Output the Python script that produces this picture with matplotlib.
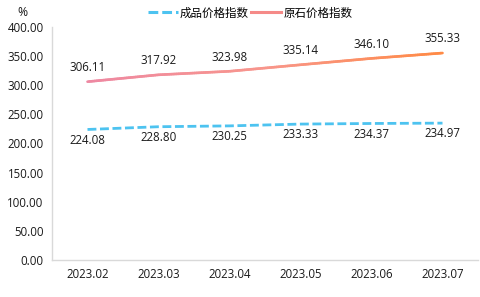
import matplotlib
matplotlib.use("Agg")
import matplotlib.pyplot as plt
import numpy as np
from matplotlib.collections import LineCollection
from matplotlib.colors import LinearSegmentedColormap
from matplotlib.lines import Line2D

plt.rcParams['font.family'] = ['Open Sans', 'Noto Sans CJK SC', 'DejaVu Sans']

categories = ['2023.02', '2023.03', '2023.04', '2023.05', '2023.06', '2023.07']
finished = [224.08, 228.80, 230.25, 233.33, 234.37, 234.97]
raw = [306.11, 317.92, 323.98, 335.14, 346.10, 355.33]
series_names = ['成品价格指数', '原石价格指数']

fig = plt.figure(figsize=(4.8, 2.97), dpi=100)
ax = fig.add_axes([52/480, 1-260/297, 426/480, 233/297])

x = np.arange(len(categories))

dash = (0, (3.2, 1.3))
# blue dashed
ax.plot(x, finished, color='#4DC3F0', lw=2.0, ls=dash, solid_capstyle='butt')

# gradient line
n = 200
xs = np.linspace(0, len(categories)-1, n)
ys = np.interp(xs, x, raw)
pts = np.array([xs, ys]).T.reshape(-1, 1, 2)
segs = np.concatenate([pts[:-1], pts[1:]], axis=1)
cmap = LinearSegmentedColormap.from_list('g', ['#EE88A2', '#F8968C', '#FF8A45'])
lc = LineCollection(segs, cmap=cmap, linewidths=1.9, capstyle='round')
lc.set_array(np.linspace(0, 1, n-1))
ax.add_collection(lc)

fs = 8.3
for i in range(len(categories)):
    ax.annotate(f'{raw[i]:.2f}', (x[i], raw[i]), xytext=(0, 5.5), textcoords='offset points',
                ha='center', va='bottom', fontsize=fs, color='#1a1a1a')
    ax.annotate(f'{finished[i]:.2f}', (x[i], finished[i]), xytext=(0, -3), textcoords='offset points',
                ha='center', va='top', fontsize=fs, color='#1a1a1a')

ax.set_xlim(-0.5, len(categories)-0.5)
ax.set_ylim(0, 400)
ax.set_yticks(np.arange(0, 401, 50))
ax.set_yticklabels([f'{v:.2f}' for v in np.arange(0, 401, 50)], fontsize=fs, color='#1a1a1a')
ax.set_xticks(x)
ax.set_xticklabels(categories, fontsize=fs, color='#1a1a1a')
ax.tick_params(length=0)
ax.tick_params(axis='x', pad=6)
ax.tick_params(axis='y', pad=6)
for s in ['top', 'right']:
    ax.spines[s].set_visible(False)
for s in ['left', 'bottom']:
    ax.spines[s].set_color('#d9d9d9')
    ax.spines[s].set_linewidth(1)

fig.text(22/480, 1-13/297, '%', ha='center', va='center', fontsize=fs+0.5, color='#1a1a1a')

handles = [Line2D([0], [0], color='#4DC3F0', lw=2.2, ls=dash),
           Line2D([0], [0], color='#F58A88', lw=2.2)]
fig.legend(handles, series_names, loc='center', bbox_to_anchor=(250/480, 1-13/297), ncol=2,
           frameon=False, fontsize=fs, handlelength=2.6, columnspacing=0.2, handletextpad=0.2,
           prop={'family': ['Noto Sans CJK SC'], 'size': fs})

fig.savefig('out.png', dpi=100)
